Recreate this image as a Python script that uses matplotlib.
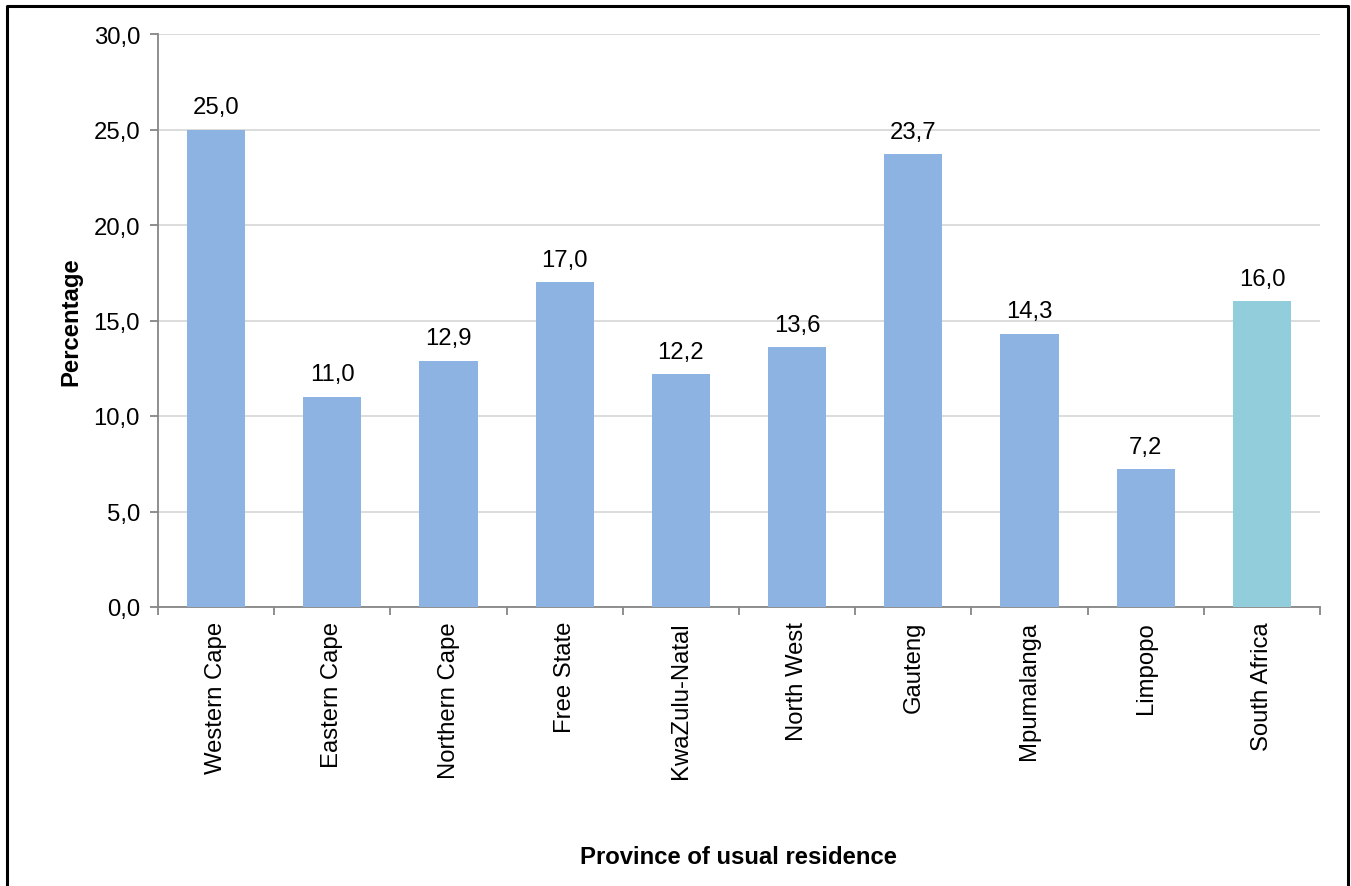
import matplotlib
matplotlib.use("Agg")
import matplotlib.pyplot as plt
from matplotlib.ticker import MultipleLocator, FuncFormatter

provinces = ["Western Cape", "Eastern Cape", "Northern Cape", "Free State",
             "KwaZulu-Natal", "North West", "Gauteng", "Mpumalanga",
             "Limpopo", "South Africa"]
percentages = [25.0, 11.0, 12.9, 17.0, 12.2, 13.6, 23.7, 14.3, 7.2, 16.0]
bar_colors = ["#8db3e2"] * 9 + ["#92cddc"]

plt.rcParams["font.family"] = ["Liberation Sans", "DejaVu Sans"]
FS = 17.2

W, H = 1351, 887
fig = plt.figure(figsize=(W / 100, H / 100), dpi=100)
ax = fig.add_axes([158 / W, 1 - 608 / H, (1320 - 158) / W, (608 - 35) / H])

x = range(len(provinces))
ax.bar(x, percentages, width=0.5, color=bar_colors, zorder=3)

def comma(v, pos=None):
    return f"{v:.1f}".replace(".", ",")

for xi, v in zip(x, percentages):
    ax.text(xi, v + 0.6, comma(v), ha="center", va="bottom", fontsize=FS)

ax.set_xlim(-0.5, len(provinces) - 0.5)
ax.set_ylim(0, 30)
ax.yaxis.set_major_locator(MultipleLocator(5))
ax.yaxis.set_major_formatter(FuncFormatter(comma))
ax.grid(axis="y", color="#d9d9d9", linewidth=1.3, zorder=0)

ax.set_xticks(x)
ax.set_xticklabels(provinces, rotation=90, fontsize=FS)
ax.set_xticks([i - 0.5 for i in range(len(provinces) + 1)], minor=True)
ax.tick_params(axis="x", which="major", length=0, pad=10)
ax.tick_params(axis="x", which="minor", length=6, color="#868686", width=1.3)
ax.tick_params(axis="y", length=6, color="#868686", width=1.3, labelsize=FS, pad=7)

for side in ("top", "right"):
    ax.spines[side].set_visible(False)
for side in ("left", "bottom"):
    ax.spines[side].set_color("#868686")
    ax.spines[side].set_linewidth(1.3)

ax.set_ylabel("Percentage", fontsize=FS, fontweight="bold", labelpad=8)
fig.text((158 + 1320) / 2 / W, 1 - 858 / H, "Province of usual residence",
         ha="center", va="center", fontsize=FS, fontweight="bold")

# outer frame (open at the bottom)
fx0, fx1, fy1 = 7 / W, 1347.5 / W, 1 - 7 / H
fig.add_artist(plt.Line2D([fx0, fx0, fx1, fx1], [0, fy1, fy1, 0],
                          color="black", linewidth=2.2, transform=fig.transFigure))

fig.savefig("out.png", dpi=100)
